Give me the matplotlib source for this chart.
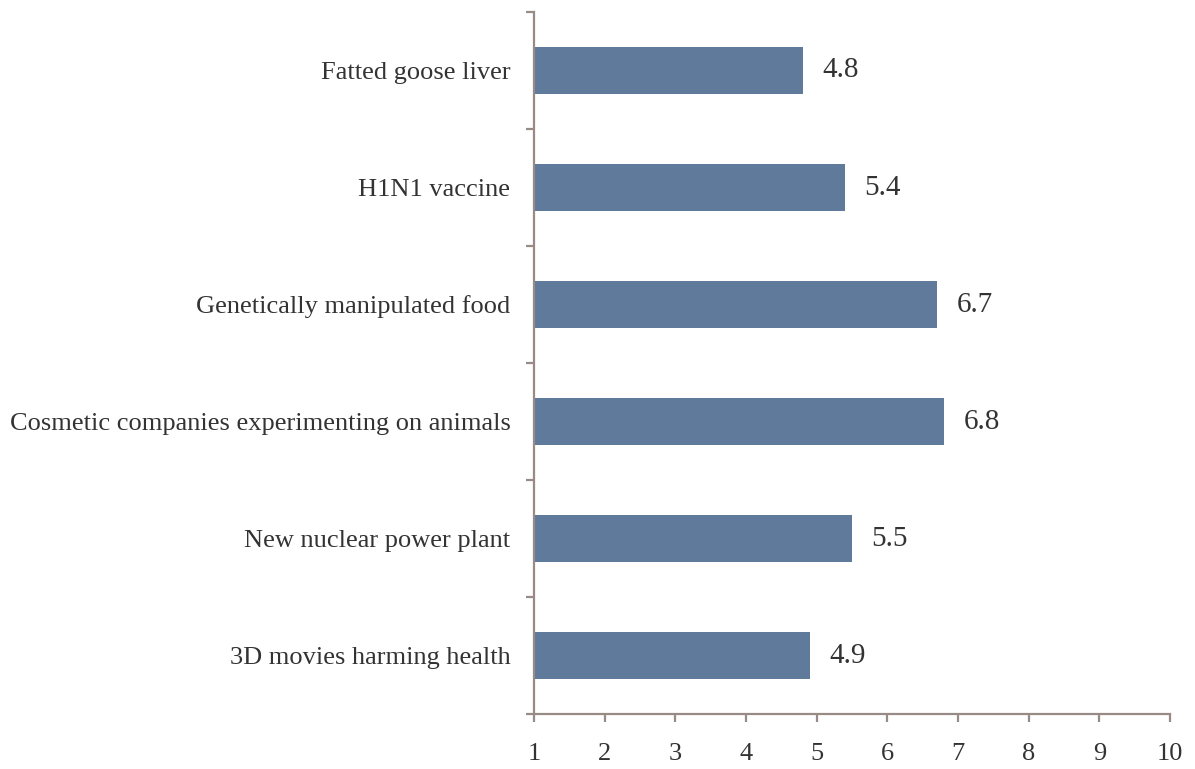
import matplotlib
matplotlib.use("Agg")
import matplotlib.pyplot as plt
import numpy as np

# survey items, top to bottom
categories = [
    "Fatted goose liver",
    "H1N1 vaccine",
    "Genetically manipulated food",
    "Cosmetic companies experimenting on animals",
    "New nuclear power plant",
    "3D movies harming health",
]
scores = [4.8, 5.4, 6.7, 6.8, 5.5, 4.9]
x_ticks = list(range(1, 11))

bar_color = "#5f7a9b"
axis_color = "#988a85"
text_color = "#333333"

plt.rcParams["font.family"] = ["Liberation Serif", "DejaVu Serif"]

fig = plt.figure(figsize=(11.95, 7.69), dpi=100)
ax = fig.add_axes([0.4469, 0.0715, 0.5322, 0.9129])

n = len(categories)
ypos = np.arange(n)[::-1]
ax.barh(ypos, [s - 1 for s in scores], left=1, height=0.4, color=bar_color)

for y, s in zip(ypos, scores):
    ax.annotate("%.1f" % s, (s, y), xytext=(14, 0), textcoords="offset points",
                va="center", ha="left", fontsize=21, color=text_color)

ax.set_xlim(1, 10)
ax.set_ylim(-0.5, n - 0.5)
ax.set_xticks(x_ticks)
ax.set_xticklabels([str(t) for t in x_ticks], fontsize=19, color=text_color)
ax.set_yticks(ypos)
ax.set_yticklabels(categories, fontsize=19, color=text_color)
ax.set_yticks(np.arange(-0.5, n, 1.0), minor=True)

ax.tick_params(axis="y", which="major", length=0, pad=17)
ax.tick_params(axis="y", which="minor", length=6, width=1.6, color=axis_color)
ax.tick_params(axis="x", length=6, width=1.6, color=axis_color, pad=15)

for side in ("top", "right"):
    ax.spines[side].set_visible(False)
for side in ("left", "bottom"):
    ax.spines[side].set_color(axis_color)
    ax.spines[side].set_linewidth(1.6)

fig.savefig("out.png", dpi=100)
